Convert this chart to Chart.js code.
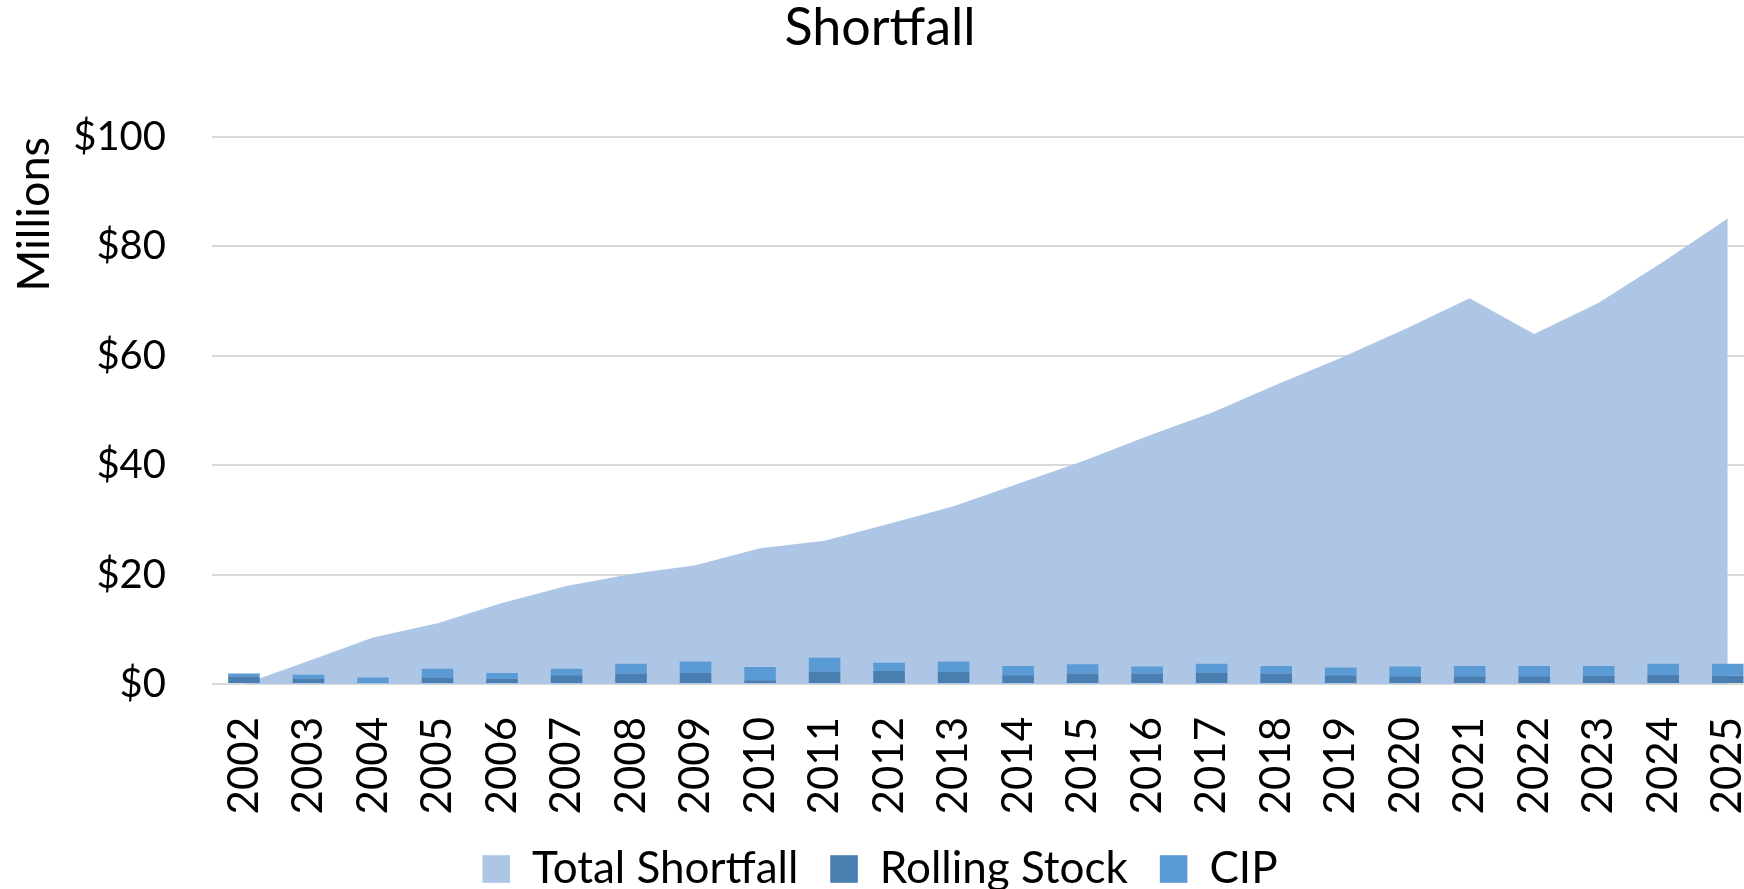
<!DOCTYPE html>
<html>
<head>
<meta charset="utf-8">
<script src="https://cdn.jsdelivr.net/npm/chart.js@4/dist/chart.umd.min.js"></script>
<style>
  html, body { margin: 0; padding: 0; background: #fff; overflow: hidden; width: 1744px; height: 889px; }
  #wrap { position: absolute; left: 0; top: 0; width: 1760px; height: 901px; }
</style>
</head>
<body>
<div id="wrap"><canvas id="c" width="1760" height="901"></canvas></div>
<script>
const years = ['2002','2003','2004','2005','2006','2007','2008','2009','2010','2011','2012','2013',
               '2014','2015','2016','2017','2018','2019','2020','2021','2022','2023','2024','2025'];
const totalShortfall = [0, 4.2, 8.5, 11.1, 14.8, 17.9, 20.1, 21.7, 24.8, 26.2, 29.3, 32.5,
                        36.6, 40.7, 45.3, 49.6, 54.7, 59.6, 64.9, 70.5, 64.0, 69.7, 77.2, 85.1];
const rollingStock = [1.4, 1.0, 0.0, 1.2, 1.0, 1.6, 1.9, 2.0, 0.7, 2.3, 2.4, 2.2,
                      1.6, 1.9, 1.9, 2.1, 1.9, 1.6, 1.4, 1.4, 1.4, 1.5, 1.7, 1.5];
const cip = [0.5, 0.7, 1.2, 1.6, 1.0, 1.2, 1.8, 2.1, 2.4, 2.5, 1.5, 1.9,
             1.7, 1.7, 1.3, 1.6, 1.4, 1.4, 1.8, 1.9, 1.9, 1.8, 2.0, 2.2];
const yTicks = [0, 20, 40, 60, 80, 100];

Chart.defaults.font.family = 'Lato, "Open Sans", sans-serif';
Chart.defaults.color = '#000';

new Chart(document.getElementById('c'), {
  type: 'bar',
  data: {
    labels: years,
    datasets: [
      {
        type: 'line',
        label: 'Total Shortfall',
        data: totalShortfall,
        backgroundColor: '#aec6e6',
        borderColor: '#aec6e6',
        borderWidth: 0,
        pointRadius: 0,
        tension: 0,
        fill: 'origin',
        stack: 'area',
        order: 2
      },
      {
        label: 'Rolling Stock',
        data: rollingStock,
        backgroundColor: '#4a7eb1',
        stack: 'bars',
        order: 1,
        barPercentage: 0.49,
        categoryPercentage: 1
      },
      {
        label: 'CIP',
        data: cip,
        backgroundColor: '#5b9bd5',
        stack: 'bars',
        order: 1,
        barPercentage: 0.49,
        categoryPercentage: 1
      }
    ]
  },
  options: {
    responsive: false,
    animation: false,
    layout: { padding: 0 },
    plugins: {
      title: {
        display: true,
        text: 'Shortfall',
        font: { size: 52, weight: 'normal', lineHeight: 1.1 },
        color: '#000',
        padding: { top: 0, bottom: 79.8 }
      },
      legend: {
        position: 'bottom',
        labels: {
          boxWidth: 27.6,
          boxHeight: 27.6,
          padding: 32,
          font: { size: 44 },
          color: '#000',
          sort: (a, b) => a.datasetIndex - b.datasetIndex
        }
      },
      tooltip: { enabled: false }
    },
    scales: {
      x: {
        stacked: true,
        grid: { display: false, drawTicks: true, tickLength: 33 },
        border: { display: false },
        ticks: { minRotation: 90, maxRotation: 90, padding: 0, font: { size: 42, lineHeight: 0.75 }, color: '#000', autoSkip: false },
        afterFit: (s) => { s.height = 131; }
      },
      y: {
        stacked: true,
        min: 0,
        max: 100,
        afterBuildTicks: (s) => { s.ticks = yTicks.map(v => ({ value: v })); },
        grid: { color: '#d9d9d9', lineWidth: 2, drawTicks: false },
        border: { display: false },
        ticks: { padding: 45.7, font: { size: 40 }, color: '#000', callback: (v) => '$' + v },
        title: { display: true, text: 'Millions', align: 'end', font: { size: 45 }, color: '#000', padding: { top: 7, bottom: 0 } },
        afterFit: (s) => { s.width = 211.7; }
      }
    }
  }
});
</script>
</body>
</html>
